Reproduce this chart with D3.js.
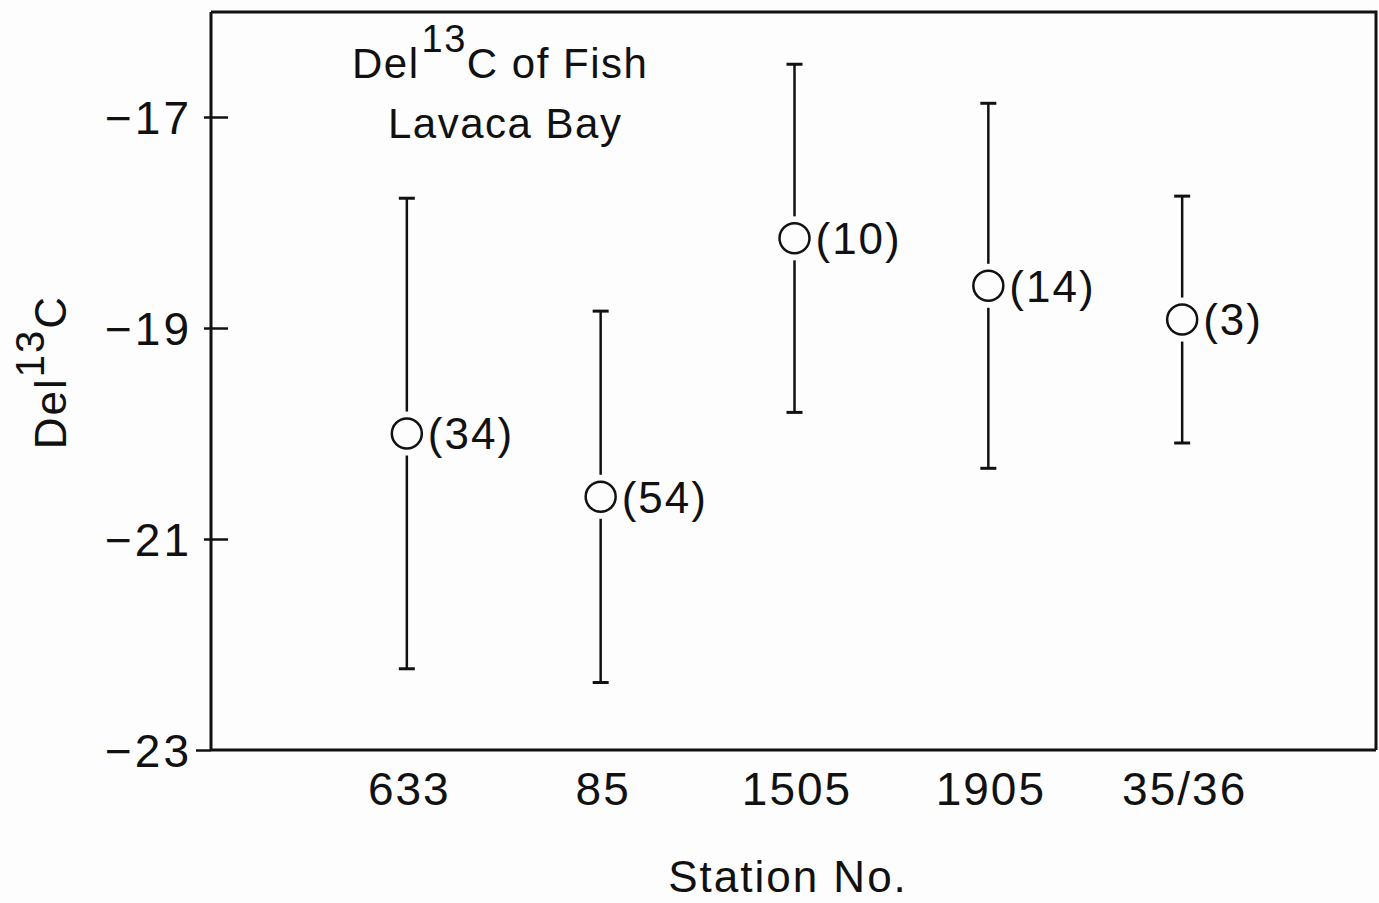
<!DOCTYPE html>
<html>
<head>
<meta charset="utf-8">
<script src="https://cdn.jsdelivr.net/npm/d3@7"></script>
<style>
  html, body { margin: 0; padding: 0; background: #fdfdfd; }
  svg { display: block; }
  text { font-family: "Liberation Sans", "DejaVu Sans", sans-serif; fill: #111; letter-spacing: 2px; }
</style>
</head>
<body>
<svg id="chart" width="1379" height="903"></svg>
<script>
// Stations along the x axis
const stations = ["633", "85", "1505", "1905", "35/36"];
// Mean del13C per station
const means = [-20.0, -20.6, -18.15, -18.6, -18.92];
// Standard deviation (error bar half-length)
const sds = [2.23, 1.76, 1.65, 1.73, 1.17];
// Sample sizes printed beside each mean
const counts = [34, 54, 10, 14, 3];
// Y tick values
const yTicks = [-17, -19, -21, -23];

const svg = d3.select("#chart");
const ink = "#111";

const plotL = 211, plotR = 1376, plotT = 12, plotB = 750;

const x = d3.scaleLinear().domain([0, stations.length + 1]).range([213, plotR]);
const y = d3.scaleLinear().domain([-23, -17]).range([plotB, 117]);

// Frame (top and right sides)
svg.append("path")
  .attr("d", `M${plotL},${plotT} L${plotR},${plotT} L${plotR},${plotB}`)
  .attr("fill", "none").attr("stroke", ink).attr("stroke-width", 3);

// Y axis with ticks crossing the axis line
const yAxis = svg.append("g")
  .attr("transform", `translate(${plotL},0)`)
  .call(d3.axisLeft(y).tickValues(yTicks).tickSize(0)
        .tickFormat(d => String(d).replace("-", "\u2212")));
yAxis.select(".domain").attr("stroke", ink).attr("stroke-width", 3)
  .attr("d", `M0,${plotT}V${plotB}`);
yAxis.selectAll(".tick line")
  .attr("x1", d => d === -23 ? -15 : -7).attr("x2", d => d === -23 ? 0 : 17)
  .attr("stroke", ink).attr("stroke-width", 2.5);
yAxis.selectAll(".tick text")
  .attr("x", -19).attr("dy", "0.36em")
  .style("font-size", "46px").style("letter-spacing", "3px").style("fill", ink);

// X axis: line with station labels, no tick marks
const xAxis = svg.append("g")
  .attr("transform", `translate(0,${plotB})`)
  .call(d3.axisBottom(x).tickValues(d3.range(1, stations.length + 1)).tickSize(0)
        .tickFormat(i => stations[i - 1]));
xAxis.select(".domain").attr("stroke", ink).attr("stroke-width", 3)
  .attr("d", `M${plotL},0H${plotR}`);
xAxis.selectAll(".tick text")
  .attr("y", 55).attr("dy", 0).attr("dx", 2)
  .style("font-size", "46px").style("fill", ink);

// Axis titles
svg.append("text")
  .attr("x", 788).attr("y", 892)
  .attr("text-anchor", "middle")
  .style("font-size", "44px")
  .text("Station No.");

const yl = svg.append("text")
  .attr("transform", "translate(66,372) rotate(-90)")
  .attr("text-anchor", "middle")
  .style("font-size", "44px");
yl.append("tspan").text("Del");
yl.append("tspan").attr("dy", -22).style("font-size", "40px").text("13");
yl.append("tspan").attr("dy", 22).text("C");

// Title block inside the plot
const t1 = svg.append("text")
  .attr("x", 352).attr("y", 78)
  .style("font-size", "42px").style("letter-spacing", "1.5px");
t1.append("tspan").text("Del");
t1.append("tspan").attr("dy", -26).attr("dx", 2).style("font-size", "38px").text("13");
t1.append("tspan").attr("dy", 26).attr("dx", 0).text("C of Fish");
svg.append("text")
  .attr("x", 388).attr("y", 138)
  .style("font-size", "42px").style("letter-spacing", "1.5px")
  .text("Lavaca Bay");

// Error bars and mean markers
const r = 15, gap = 7, cap = 8;
const pts = stations.map((s, i) => ({ i, m: means[i], sd: sds[i], n: counts[i] }));

const g = svg.append("g").attr("stroke", ink).attr("stroke-width", 2.5).attr("fill", "none");
pts.forEach(p => {
  const cx = x(p.i + 1), cy = y(p.m), yt = y(p.m + p.sd), yb = y(p.m - p.sd);
  g.append("line").attr("x1", cx).attr("x2", cx).attr("y1", yt).attr("y2", cy - r - gap);
  g.append("line").attr("x1", cx).attr("x2", cx).attr("y1", cy + r + gap).attr("y2", yb);
  g.append("line").attr("x1", cx - cap).attr("x2", cx + cap).attr("y1", yt).attr("y2", yt).attr("stroke-width", 3);
  g.append("line").attr("x1", cx - cap).attr("x2", cx + cap).attr("y1", yb).attr("y2", yb).attr("stroke-width", 3);
  g.append("circle").attr("cx", cx).attr("cy", cy).attr("r", r);
  svg.append("text")
    .attr("x", cx + r + 6).attr("y", cy).attr("dy", "0.36em")
    .style("font-size", "44px")
    .text(`(${p.n})`);
});
</script>
</body>
</html>
